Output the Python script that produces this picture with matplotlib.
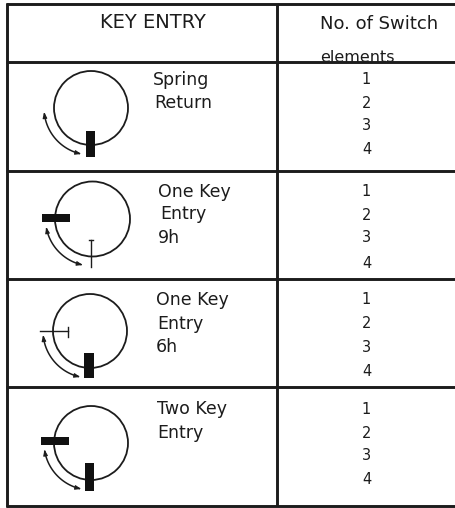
import numpy as np
import matplotlib
matplotlib.use("Agg")
import matplotlib.pyplot as plt
from matplotlib.patches import Circle, Rectangle

plt.rcParams['font.family'] = ['DejaVu Sans']
INK = '#1c1c1c'

header_left = "KEY ENTRY"
header_right = ["No. of Switch", "elements"]
row_labels = [
    [("Spring", 153, 80), ("Return", 154, 103)],
    [("One Key", 158, 192), ("Entry", 160, 214), ("9h", 158, 238)],
    [("One Key", 156, 300), ("Entry", 157, 324), ("6h", 156, 347)],
    [("Two Key", 157, 409), ("Entry", 157, 433)],
]
element_counts = ["1", "2", "3", "4"]
element_y = [
    [79, 103, 126, 150],
    [191, 215, 238, 263],
    [300, 324, 348, 371],
    [409, 433, 456, 480],
]
circle_cx = [91, 92.5, 90, 91]
circle_cy = [108, 219, 331, 443]
circle_r = [37, 37.5, 37, 37]
thick_keys = [
    [(86, 131, 95, 157)],
    [(42, 214, 70, 222)],
    [(84, 353, 94, 378)],
    [(41, 437, 69, 445), (85, 463, 94, 491)],
]
thin_keys = [(91, 240, 91, 267), (40, 331, 68, 331)]
thin_caps = [(89, 240, 93, 240), (68, 327, 68, 337)]
arc_r = [47, 47, 47, 47]
arc_start_deg = [185, 190, 185, 188]
arc_end_deg = [258, 258, 258, 258]

fig = plt.figure(figsize=(4.56, 5.08), dpi=100)
ax = fig.add_axes([0, 0, 1, 1])
ax.set_xlim(0, 456)
ax.set_ylim(508, 0)
ax.axis('off')

for y in [4, 62, 170.5, 279, 387, 506]:
    ax.plot([6, 456], [y, y], color=INK, lw=2.1, solid_capstyle='butt')
ax.plot([7, 7], [3, 507], color=INK, lw=2.1, solid_capstyle='butt')
ax.plot([277.5, 277.5], [4, 506], color=INK, lw=2.1, solid_capstyle='butt')

txt = dict(color=INK, fontsize=12.5, va='center', ha='left')
ax.text(100, 23, header_left, color=INK, fontsize=14, va='center', ha='left')
ax.text(320, 24, header_right[0], color=INK, fontsize=13, va='center', ha='left')
ax.text(320, 58, header_right[1], color=INK, fontsize=11.5, va='center', ha='left')

for labels in row_labels:
    for s, x, y in labels:
        ax.text(x, y, s, **txt)
for ys in element_y:
    for s, y in zip(element_counts, ys):
        ax.text(366.5, y, s, color=INK, fontsize=10.5, va='center', ha='center')

for i in range(4):
    cx, cy, r = circle_cx[i], circle_cy[i], circle_r[i]
    ax.add_patch(Circle((cx, cy), r, fill=False, ec=INK, lw=1.3))
    t = np.radians(np.linspace(arc_start_deg[i], arc_end_deg[i], 60))
    ax_x = cx + arc_r[i] * np.cos(t)
    ax_y = cy - arc_r[i] * np.sin(t)
    ax.plot(ax_x[2:-2], ax_y[2:-2], color=INK, lw=1.1)
    for a, b in [(3, 0), (-4, -1)]:
        ax.annotate('', xy=(ax_x[b], ax_y[b]), xytext=(ax_x[a], ax_y[a]),
                    arrowprops=dict(arrowstyle='-|>,head_length=0.35,head_width=0.13',
                                    color=INK, lw=0.8, shrinkA=0, shrinkB=0))
    for x0, y0, x1, y1 in thick_keys[i]:
        ax.add_patch(Rectangle((x0, y0), x1 - x0, y1 - y0, fc='#111111', ec='none', zorder=3))

for (x0, y0, x1, y1), (a0, b0, a1, b1) in zip(thin_keys, thin_caps):
    ax.plot([x0, x1], [y0, y1], color=INK, lw=1.0)
    ax.plot([a0, a1], [b0, b1], color=INK, lw=1.0)

fig.savefig('out.png', dpi=100)
